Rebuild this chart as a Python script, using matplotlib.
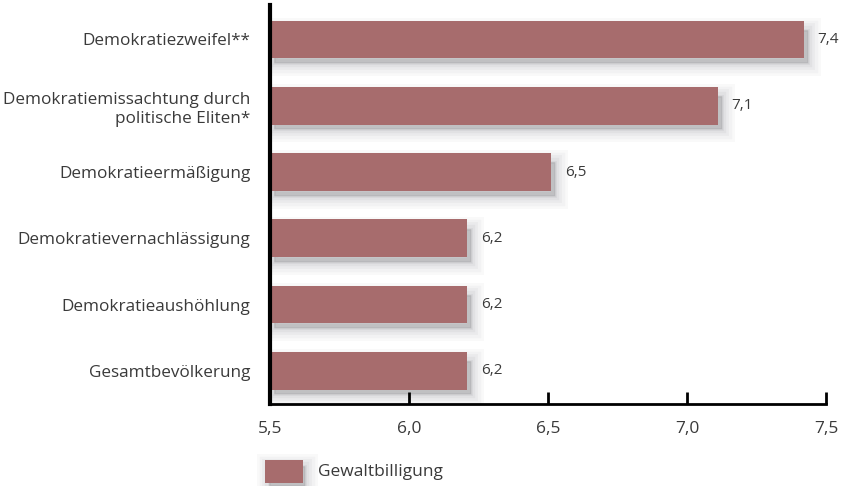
import numpy as np
import matplotlib.pyplot as plt
import matplotlib.transforms as mtransforms
from matplotlib.patches import Rectangle

plt.rcParams['font.family'] = ['Open Sans', 'DejaVu Sans']

## Data
categories = ["Demokratiezweifel**",
              "Demokratiemissachtung durch\npolitische Eliten*",
              "Demokratieermäßigung",
              "Demokratievernachlässigung",
              "Demokratieaushöhlung",
              "Gesamtbevölkerung"]
values = [7.42, 7.11, 6.51, 6.21, 6.21, 6.21]
value_labels = ["7,4", "7,1", "6,5", "6,2", "6,2", "6,2"]
xticks = [5.5, 6.0, 6.5, 7.0, 7.5]
xtick_labels = ["5,5", "6,0", "6,5", "7,0", "7,5"]

barColor = "#a76c6d"
textColor = "#3a3a3a"
shadowColor = "#4a4a55"
shadowLayers = [(18, 0.03), (14, 0.035), (10, 0.045), (6, 0.055), (2, 0.07)]

fig = plt.figure(figsize=(8.45, 4.86), dpi=100)
ax = fig.add_axes([270/845, 82/486, 556/845, 399/486])

y = np.arange(len(categories))
base = xticks[0]
widths = [v - base for v in values]

# soft shadow, several layers offset down-right
tr = mtransforms.offset_copy(ax.transData, fig, x=4, y=-7, units='dots')
for lw, a in shadowLayers:
    ax.barh(y, widths, left=base, height=0.5, color=shadowColor, edgecolor=shadowColor,
            linewidth=lw, alpha=a, transform=tr, zorder=1)

ax.barh(y, widths, left=base, height=0.57, color=barColor, zorder=3)

for yi, v, lab in zip(y, values, value_labels):
    ax.text(v + 0.05, yi, lab, va='center', ha='left', fontsize=11, color=textColor)

ax.set_xlim(5.5, 7.5)
ax.set_ylim(len(categories) - 0.5, -0.52)
ax.set_yticks(y)
ax.set_yticklabels(categories, fontsize=12.3, color=textColor, ha='right', linespacing=1.25)
ax.tick_params(axis='y', length=0, pad=14)
ax.set_xticks(xticks)
ax.set_xticklabels(xtick_labels, fontsize=12.5, color=textColor)
ax.tick_params(axis='x', direction='in', length=9, width=2, pad=12, color='black')

for s in ['top', 'right']:
    ax.spines[s].set_visible(False)
ax.spines['left'].set_linewidth(3)
ax.spines['bottom'].set_linewidth(2)
ax.spines['left'].set_zorder(5)

# legend
lx, ly = 265/845, 1 - 483/486
for lw, a in shadowLayers:
    fig.patches.append(Rectangle((lx + 4/845, ly - 3/486), 36/845, 20/486, transform=fig.transFigure,
                                 facecolor=shadowColor, edgecolor=shadowColor, linewidth=lw, alpha=a))
fig.patches.append(Rectangle((lx, ly), 38/845, 23/486, transform=fig.transFigure, facecolor=barColor))
fig.text(318/845, ly + 11.5/486, "Gewaltbilligung", fontsize=12.5, color=textColor, va='center')

plt.savefig("out.png", dpi=100)
